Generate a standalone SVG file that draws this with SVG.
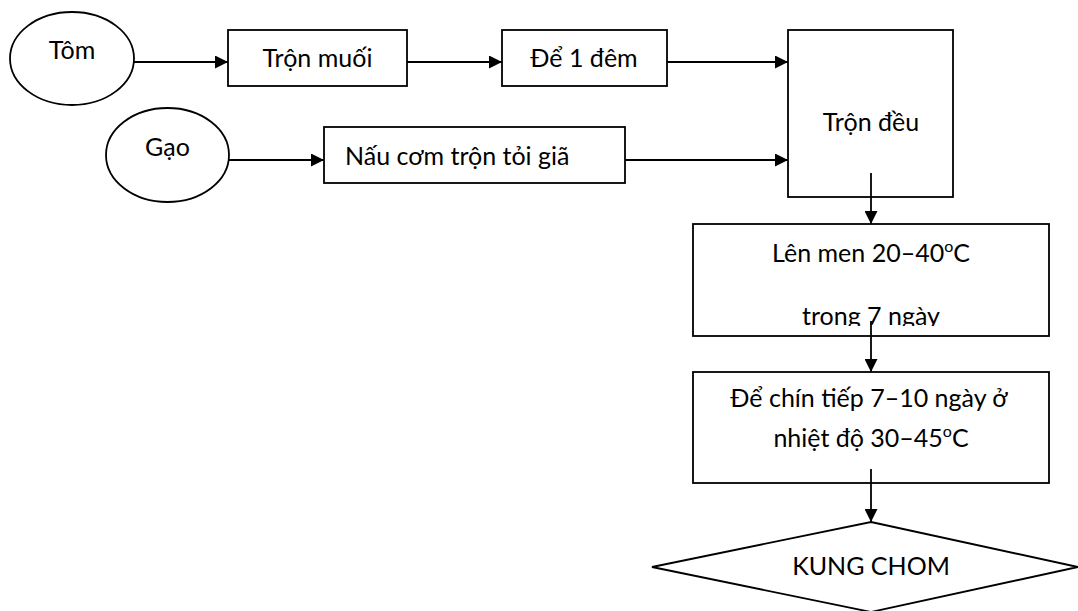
<svg xmlns="http://www.w3.org/2000/svg" width="1078" height="611" viewBox="0 0 1078 611">
  <style>
    .shape { fill: #ffffff; stroke: #000000; stroke-width: 1.8; }
    .link { fill: none; stroke: #000000; stroke-width: 1.8; marker-end: url(#arrow); }
    text { font-family: "Lato", "Open Sans", "Liberation Sans", sans-serif; font-size: 25px; fill: #000000; }
    .mid { text-anchor: middle; }
    .sup { font-size: 16px; }
  </style>
  <defs>
    <marker id="arrow" markerUnits="userSpaceOnUse" markerWidth="14" markerHeight="13" refX="13" refY="6.5" orient="auto">
      <path d="M0,0 L13,6.5 L0,13 Z" fill="#000000"/>
    </marker>
    <!-- the second line of the fermentation box is cut off just under its baseline -->
    <clipPath id="clip-len-men">
      <rect x="693" y="224" width="356" height="102"/>
    </clipPath>
  </defs>

  <g id="tom">
    <ellipse class="shape" cx="72" cy="58.5" rx="62" ry="46.5"/>
    <text class="mid" x="72" y="59">Tôm</text>
  </g>

  <g id="gao">
    <ellipse class="shape" cx="167.5" cy="155" rx="61.5" ry="47"/>
    <text class="mid" x="167.5" y="156">Gạo</text>
  </g>

  <g id="tron-muoi">
    <rect class="shape" x="228" y="30" width="179" height="56"/>
    <text class="mid" x="317.5" y="67">Trộn muối</text>
  </g>

  <g id="de-1-dem">
    <rect class="shape" x="502" y="30" width="165" height="56"/>
    <text class="mid" x="584" y="67">Để 1 đêm</text>
  </g>

  <g id="nau-com">
    <rect class="shape" x="324" y="127" width="301" height="56"/>
    <text x="345" y="165">Nấu cơm trộn tỏi giã</text>
  </g>

  <g id="tron-deu">
    <rect class="shape" x="788" y="30" width="165" height="167"/>
    <text class="mid" x="871" y="131">Trộn đều</text>
  </g>

  <g id="len-men">
    <rect class="shape" x="693" y="224" width="356" height="112"/>
    <text class="mid" x="871" y="262">Lên men 20–40<tspan class="sup" dy="-10">o</tspan><tspan dy="10">C</tspan></text>
    <text class="mid" x="871" y="325" clip-path="url(#clip-len-men)">trong 7 ngày</text>
  </g>

  <g id="de-chin">
    <rect class="shape" x="693" y="372" width="356" height="111"/>
    <text class="mid" x="869" y="407">Để chín tiếp 7–10 ngày ở</text>
    <text class="mid" x="871" y="447">nhiệt độ 30–45<tspan class="sup" dy="-10">o</tspan><tspan dy="10">C</tspan></text>
  </g>

  <g id="kung-chom">
    <polygon class="shape" points="871,522 1078,567 871,612 652,567"/>
    <text class="mid" x="871" y="575">KUNG CHOM</text>
  </g>

  <g id="connectors">
    <line class="link" x1="134" y1="62" x2="228" y2="62"/>
    <line class="link" x1="407" y1="62" x2="502" y2="62"/>
    <line class="link" x1="667" y1="62" x2="788" y2="62"/>
    <line class="link" x1="229" y1="160" x2="324" y2="160"/>
    <line class="link" x1="625" y1="160" x2="788" y2="160"/>
    <line class="link" x1="871" y1="173" x2="871" y2="224"/>
    <line class="link" x1="871" y1="321" x2="871" y2="372"/>
    <line class="link" x1="871" y1="469" x2="871" y2="522"/>
  </g>
</svg>
